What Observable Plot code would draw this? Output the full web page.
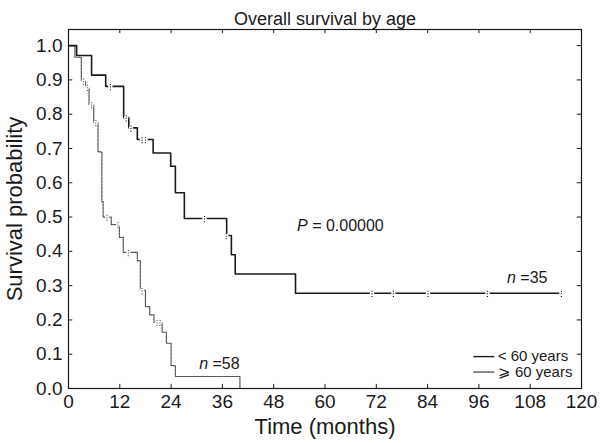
<!DOCTYPE html>
<html><head><meta charset="utf-8">
<script src="https://cdn.jsdelivr.net/npm/d3@7"></script>
<script src="https://cdn.jsdelivr.net/npm/@observablehq/plot@0.6"></script>
<style>body{margin:0;background:#fff;font-family:"Liberation Sans",Arial,sans-serif}</style>
</head><body><div id="chart"></div>
<script>
// Tick labels
const xTicks = [0, 12, 24, 36, 48, 60, 72, 84, 96, 108, 120];
const yTicks = [0.0, 0.1, 0.2, 0.3, 0.4, 0.5, 0.6, 0.7, 0.8, 0.9, 1.0];

// < 60 years (n = 35) step curve
const monthsLt = [0, 1.9, 5.4, 8.7, 12.9, 14.1, 16.1, 19.8, 23.9, 25.0, 27.1, 37.0, 38.1, 39.0, 53.1, 115.3];
const survLt   = [1.0, 0.971, 0.914, 0.881, 0.79, 0.76, 0.726, 0.687, 0.648, 0.571, 0.496, 0.446, 0.39, 0.334, 0.278, 0.278];
const censLtMonths = [9.8, 13.5, 14.6, 17.2, 18.0, 31.8, 36.9, 71.0, 76.0, 84.1, 98.0, 115.3];
const censLtSurv   = [0.881, 0.79, 0.76, 0.726, 0.726, 0.496, 0.446, 0.278, 0.278, 0.278, 0.278, 0.278];

// >= 60 years (n = 58) step curve
const monthsGe = [0, 1.5, 3.0, 4.0, 4.8, 5.9, 6.9, 7.8, 8.1, 10.0, 11.9, 12.8, 16.1, 16.8, 18.0, 19.0, 20.0, 21.9, 22.9, 24.0, 25.0, 40.1];
const survGe   = [1.0, 0.966, 0.897, 0.879, 0.828, 0.776, 0.69, 0.545, 0.5, 0.478, 0.441, 0.397, 0.373, 0.286, 0.239, 0.215, 0.193, 0.164, 0.132, 0.067, 0.035, 0.0];
const censGeMonths = [3.5, 4.4, 5.4, 6.4, 9.0, 11.6, 14.0, 17.2, 20.7, 21.4];
const censGeSurv   = [0.897, 0.879, 0.828, 0.776, 0.5, 0.478, 0.397, 0.286, 0.193, 0.193];

// Annotations
const annoText = ["P = 0.00000", "n =35", "n =58"];
const annoX = [63.6, 107.3, 35.3];
const annoY = [0.475, 0.322, 0.073];

// Legend
const legendLabels = ["< 60 years", "⩾ 60 years"];
const legendY = [0.093, 0.048];

const lt = monthsLt.map((m, i) => ({m, s: survLt[i]}));
const ge = monthsGe.map((m, i) => ({m, s: survGe[i]}));
const cLt = censLtMonths.map((m, i) => ({m, s: censLtSurv[i]}));
const cGe = censGeMonths.map((m, i) => ({m, s: censGeSurv[i]}));
const anno = annoText.map((t, i) => ({t, x: annoX[i], y: annoY[i]}));
const leg = legendLabels.map((t, i) => ({t, y: legendY[i], dash: i === 0 ? null : "2.5,1", color: i === 0 ? "#1a1a1a" : "#555"}));

const ink = "#1a1a1a";
const gray = "#555";
const FONT = '"Liberation Sans", Arial, Helvetica, sans-serif';

const censorMarks = (data, color) => [
  Plot.dot(data, {x: "m", y: "s", r: 2.2, fill: "white", stroke: null}),
  Plot.link(data, {x1: "m", x2: "m", y1: d => d.s - 0.011, y2: d => d.s + 0.011, stroke: color, strokeWidth: 1.2, strokeDasharray: "1,1.6"})
];

const chart = Plot.plot({
  width: 600, height: 443,
  marginLeft: 68, marginRight: 19, marginTop: 29, marginBottom: 55,
  style: {fontFamily: FONT, fontSize: "19px", color: ink, background: "#fff"},
  x: {domain: [0, 120]},
  y: {domain: [0, 1.047]},
  marks: [
    Plot.axisX(xTicks, {tickSize: 0, tickPadding: 6, label: null, tickFormat: d => String(d), fontSize: 19}),
    Plot.axisY(yTicks, {tickSize: 0, tickPadding: 6, label: null, tickFormat: d => d.toFixed(1), fontSize: 19}),
    Plot.ruleX(xTicks, {y1: 0, y2: 0.012, stroke: ink}),
    Plot.ruleX(xTicks, {y1: 1.047, y2: 1.035, stroke: ink}),
    Plot.ruleY(yTicks, {x1: 0, x2: 1.0, stroke: ink}),
    Plot.ruleY(yTicks, {x1: 120, x2: 119, stroke: ink}),
    Plot.line(ge, {x: "m", y: "s", curve: "step-after", stroke: gray, strokeWidth: 1.2, strokeDasharray: "2.5,1"}),
    Plot.line(lt, {x: "m", y: "s", curve: "step-after", stroke: ink, strokeWidth: 1.6}),
    ...censorMarks(cGe, gray),
    ...censorMarks(cLt, ink),
    Plot.frame({stroke: ink, strokeWidth: 1.2}),
    Plot.text(anno, {x: "x", y: "y", text: "t", fontSize: 16, fill: ink}),
    Plot.link(leg, {x1: 94.7, x2: 99.6, y1: "y", y2: "y", stroke: "color", strokeWidth: 1.4, strokeDasharray: "dash"}),
    Plot.text(leg, {x: 100.4, y: "y", text: "t", textAnchor: "start", fontSize: 15, fill: ink}),
    Plot.text(["Overall survival by age"], {frameAnchor: "top", dy: -17, fontSize: 18, fill: ink}),
    Plot.text(["Time (months)"], {frameAnchor: "bottom", dy: 45, fontSize: 22, fill: ink}),
    Plot.text(["Survival probability"], {frameAnchor: "left", textAnchor: "middle", dx: -54, rotate: -90, fontSize: 22, fill: ink})
  ]
});

d3.select(chart).selectAll("text").each(function() {
  const m = /^(n|P)(\s?=.*)$/.exec(this.textContent);
  if (m) this.innerHTML = `<tspan font-style="italic">${m[1]}</tspan>${m[2]}`;
});
document.getElementById("chart").appendChild(chart);
</script></body></html>
